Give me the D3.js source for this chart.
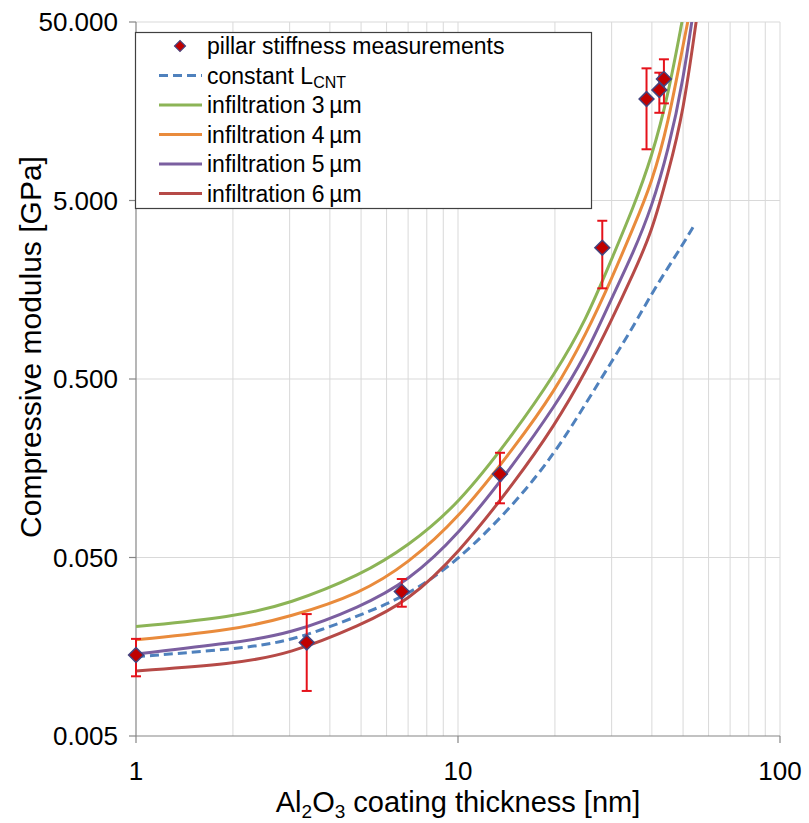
<!DOCTYPE html>
<html>
<head>
<meta charset="utf-8">
<script src="https://cdn.jsdelivr.net/npm/d3@7"></script>
<style>
body { margin: 0; background: #fff; }
svg text { font-family: "Liberation Sans", Arial, sans-serif; fill: #000; }
</style>
</head>
<body>
<svg id="chart" width="809" height="823"></svg>
<script>
// pillar stiffness measurements (x in nm, y in GPa, error bar low/high)
const ptX = [1, 3.39, 6.69, 13.5, 28.06, 38.5, 42.2, 43.6];
const ptY = [0.0142, 0.0167, 0.0322, 0.147, 2.72, 18.5, 20.8, 24.0];
const ptLow = [0.0108, 0.00894, 0.0265, 0.1006, 1.61, 9.68, 15.5, 17.5];
const ptHigh = [0.0175, 0.0241, 0.0379, 0.193, 3.85, 27.5, 26.0, 30.9];

// model curves
const modelX = [1, 2, 3, 5, 7, 10, 15, 20, 25, 30, 35, 40, 45, 50, 55];
const infil3 = [0.0205, 0.0232, 0.0275, 0.0399, 0.058, 0.0984, 0.252, 0.533, 1.07, 2.35, 4.54, 8.77, 19.6, 54, null];
const infil4 = [0.0173, 0.0196, 0.0232, 0.0315, 0.0464, 0.0822, 0.208, 0.428, 0.893, 1.82, 3.51, 6.27, 13.6, 37.3, 88];
const infil5 = [0.0144, 0.0166, 0.0186, 0.0265, 0.0369, 0.0664, 0.169, 0.353, 0.681, 1.42, 2.54, 4.6, 9.6, 22.9, 75.5];
const infil6 = [0.01157, 0.01266, 0.0144, 0.0209, 0.0285, 0.0523, 0.132, 0.276, 0.554, 1.07, 1.94, 3.33, 7.2, 15.3, 51.3];

const constX = [1, 2, 3, 5, 7, 10, 15, 20, 25, 30, 35, 40, 45, 50, 53.7];
const constL = [0.0139, 0.01535, 0.0168, 0.0238, 0.0308, 0.0478, 0.1, 0.192, 0.367, 0.625, 0.982, 1.51, 2.12, 2.85, 3.55];

const yTicks = [0.005, 0.05, 0.5, 5, 50];
const yTickLabels = ["0.005", "0.050", "0.500", "5.000", "50.000"];
const xTicks = [1, 10, 100];
const xMinor = [2, 3, 4, 5, 6, 7, 8, 9, 10, 20, 30, 40, 50, 60, 70, 80, 90, 100];

const seriesNames = ["infiltration 3\u2009\u00b5m", "infiltration 4\u2009\u00b5m", "infiltration 5\u2009\u00b5m", "infiltration 6\u2009\u00b5m"];
const seriesColors = ["#8cb456", "#e98b3c", "#7b5fa0", "#b64a47"];
const seriesData = [infil3, infil4, infil5, infil6];

const svg = d3.select("#chart");
const pLeft = 136, pRight = 780, pTop = 22, pBottom = 736;

const x = d3.scaleLog().domain([1, 100]).range([pLeft, pRight]);
const y = d3.scaleLog().domain([0.005, 50]).range([pBottom, pTop]);

// grid
svg.append("g")
    .selectAll("line")
    .data(xMinor)
    .enter()
    .append("line")
    .attr("x1", (d) => x(d)).attr("x2", (d) => x(d))
    .attr("y1", pTop).attr("y2", pBottom)
    .attr("stroke", "#d9d9d9").attr("stroke-width", 1);

svg.append("g")
    .selectAll("line")
    .data(yTicks.slice(1))
    .enter()
    .append("line")
    .attr("x1", pLeft).attr("x2", pRight)
    .attr("y1", (d) => y(d)).attr("y2", (d) => y(d))
    .attr("stroke", "#d9d9d9").attr("stroke-width", 1);

// axes
svg.append("line").attr("x1", pLeft).attr("x2", pLeft).attr("y1", pTop).attr("y2", pBottom)
    .attr("stroke", "#868686").attr("stroke-width", 1.2);
svg.append("line").attr("x1", pLeft).attr("x2", pRight).attr("y1", pBottom).attr("y2", pBottom)
    .attr("stroke", "#868686").attr("stroke-width", 1.2);

svg.append("g").selectAll("line").data(yTicks).enter().append("line")
    .attr("x1", pLeft - 7).attr("x2", pLeft)
    .attr("y1", (d) => y(d)).attr("y2", (d) => y(d))
    .attr("stroke", "#868686").attr("stroke-width", 1.2);
svg.append("g").selectAll("line").data(xTicks).enter().append("line")
    .attr("x1", (d) => x(d)).attr("x2", (d) => x(d))
    .attr("y1", pBottom).attr("y2", pBottom + 7)
    .attr("stroke", "#868686").attr("stroke-width", 1.2);

svg.append("g").selectAll("text").data(yTicks).enter().append("text")
    .attr("x", 118).attr("y", (d) => y(d) + 9)
    .attr("text-anchor", "end")
    .style("font-size", "26px")
    .text((d, i) => yTickLabels[i]);

svg.append("g").selectAll("text").data(xTicks).enter().append("text")
    .attr("x", (d) => x(d)).attr("y", 780)
    .attr("text-anchor", "middle")
    .style("font-size", "26px")
    .text((d) => d);

// titles
const xt = svg.append("text").attr("x", 458).attr("y", 812)
    .attr("text-anchor", "middle").style("font-size", "29px");
xt.append("tspan").text("Al");
xt.append("tspan").attr("dy", 6).style("font-size", "19px").text("2");
xt.append("tspan").attr("dy", -6).text("O");
xt.append("tspan").attr("dy", 6).style("font-size", "19px").text("3");
xt.append("tspan").attr("dy", -6).text(" coating thickness [nm]");

svg.append("text")
    .attr("transform", "translate(41,347) rotate(-90)")
    .attr("text-anchor", "middle").style("font-size", "30px")
    .text("Compressive modulus [GPa]");

// clip
svg.append("clipPath").attr("id", "plot-clip")
    .append("rect").attr("x", pLeft).attr("y", pTop)
    .attr("width", pRight - pLeft).attr("height", pBottom - pTop);

const plot = svg.append("g").attr("clip-path", "url(#plot-clip)");

const line = d3.line()
    .defined((d) => d[1] != null)
    .x((d) => x(d[0]))
    .y((d) => y(d[1]))
    .curve(d3.curveBasis);

plot.append("path")
    .attr("d", line(constX.map((e, i) => [e, constL[i]])))
    .attr("fill", "none").attr("stroke", "#4f81bd")
    .attr("stroke-width", 3).attr("stroke-dasharray", "9,5");

for (let k = seriesData.length - 1; k >= 0; k--) {
    plot.append("path")
        .attr("d", line(modelX.map((e, i) => [e, seriesData[k][i]])))
        .attr("fill", "none").attr("stroke", seriesColors[k])
        .attr("stroke-width", 3);
}

// error bars
const eb = svg.append("g").attr("stroke", "#e5121b").attr("stroke-width", 2);
ptX.forEach((e, i) => {
    const px = x(e);
    eb.append("line").attr("x1", px).attr("x2", px).attr("y1", y(ptLow[i])).attr("y2", y(ptHigh[i]));
    eb.append("line").attr("x1", px - 5).attr("x2", px + 5).attr("y1", y(ptLow[i])).attr("y2", y(ptLow[i]));
    eb.append("line").attr("x1", px - 5).attr("x2", px + 5).attr("y1", y(ptHigh[i])).attr("y2", y(ptHigh[i]));
});

const diamond = d3.symbol().type(d3.symbolSquare).size(110);
svg.append("g").selectAll("path").data(ptX).enter().append("path")
    .attr("d", diamond)
    .attr("transform", (d, i) => `translate(${x(d)},${y(ptY[i])}) rotate(45)`)
    .attr("fill", "#c00000").attr("stroke", "#44437e").attr("stroke-width", 1.5);

// legend
const lg = svg.append("g");
lg.append("rect").attr("x", 135.5).attr("y", 32.5).attr("width", 456).attr("height", 176)
    .attr("fill", "#fff").attr("stroke", "#404040").attr("stroke-width", 1.2);

const rowY = [46, 75.5, 105, 134.5, 164, 193.5];
lg.append("path").attr("d", d3.symbol().type(d3.symbolSquare).size(60))
    .attr("transform", `translate(180,${rowY[0]}) rotate(45)`)
    .attr("fill", "#c00000").attr("stroke", "#44437e").attr("stroke-width", 1.2);
lg.append("text").attr("x", 207).attr("y", rowY[0] + 8).style("font-size", "23px")
    .text("pillar stiffness measurements");

lg.append("line").attr("x1", 159).attr("x2", 202).attr("y1", rowY[1]).attr("y2", rowY[1])
    .attr("stroke", "#4f81bd").attr("stroke-width", 3).attr("stroke-dasharray", "9,5");
const ct = lg.append("text").attr("x", 207).attr("y", rowY[1] + 8).style("font-size", "23px");
ct.append("tspan").text("constant L");
ct.append("tspan").attr("dy", 4).style("font-size", "16px").text("CNT");

seriesNames.forEach((name, k) => {
    const ry = rowY[k + 2];
    lg.append("line").attr("x1", 159).attr("x2", 202).attr("y1", ry).attr("y2", ry)
        .attr("stroke", seriesColors[k]).attr("stroke-width", 3);
    lg.append("text").attr("x", 207).attr("y", ry + 8).style("font-size", "23px")
        .text(name);
});
</script>
</body>
</html>
